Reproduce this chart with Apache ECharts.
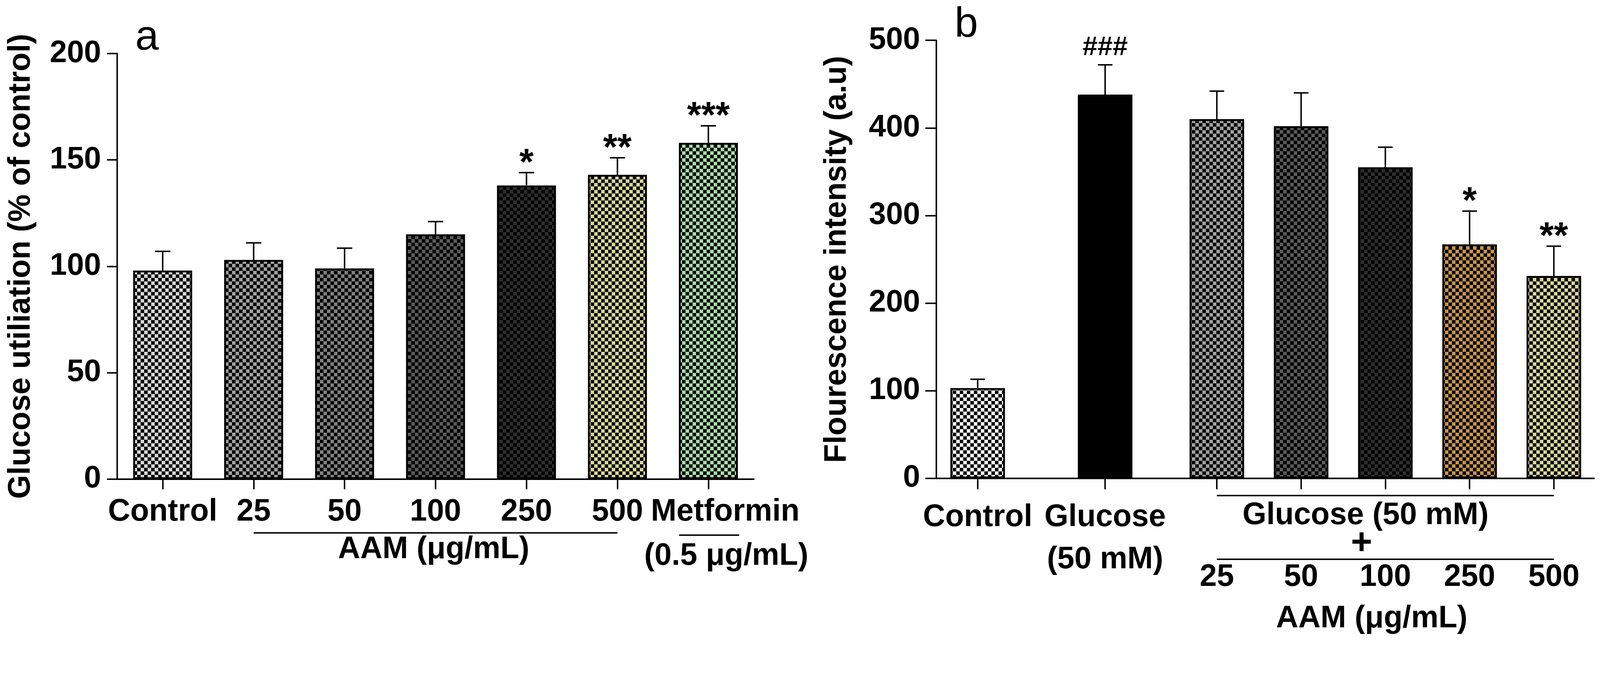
<!DOCTYPE html>
<html>
<head>
<meta charset="utf-8">
<script src="https://cdn.jsdelivr.net/npm/echarts@6/dist/echarts.min.js"></script>
<style>
  html, body { margin: 0; padding: 0; background: #fff; overflow: hidden; }
  #box { width: 100vw; height: 100vh; }
</style>
</head>
<body>
<div id="box"></div>
<script>
// panel a: glucose utilisation
var aCategories = ['Control', '25', '50', '100', '250', '500', 'Metformin'];
var aValues = [98, 103, 99, 115, 138, 143, 158];
var aErrors = [9, 8, 9.5, 6, 6, 8, 8];
var aMarks = ['', '', '', '', '*', '**', '***'];
var aColors = ['#d6d6d6', '#a0a0a0', '#808080', '#5a5a5a', '#2e2e2e', '#d8d69a', '#a8dca9'];

// panel b: fluorescence
var bCategories = ['Control', 'Glucose\n(50 mM)', '25', '50', '100', '250', '500'];
var bValues = [103, 438, 410, 402, 355, 267, 231];
var bErrors = [10, 34, 32, 38, 23, 38, 34];
var bMarks = ['', '###', '', '', '', '*', '**'];
var bColors = ['#ffffff', '#000000', '#a0a0a0', '#5a5a5a', '#2e2e2e', '#c8944e', '#d8d69a'];

var FONT = '"Liberation Sans", Arial, sans-serif';

window.onload = function () {
    var box = document.getElementById('box');
    var myChart = echarts.init(box);
    // layout was measured on a 4368x1750 canvas, scale it to whatever we get
    var S = Math.min(box.clientWidth / 4368, box.clientHeight / 1750);
    function s(v) { return v * S; }

    // checkerboard fill like the GraphPad bars
    function checker(color) {
        if (color === '#000000') return color;
        var n = Math.max(1, Math.round(s(10)));
        var c = document.createElement('canvas');
        c.width = 2 * n;
        c.height = 2 * n;
        var g = c.getContext('2d');
        g.fillStyle = color;
        g.fillRect(0, 0, 2 * n, 2 * n);
        g.fillStyle = '#000';
        g.fillRect(0, 0, n, n);
        g.fillRect(n, n, n, n);
        return { image: c, repeat: 'repeat' };
    }

    function barData(values, colors) {
        return values.map(function (v, i) {
            return { value: v, itemStyle: { color: checker(colors[i]) } };
        });
    }

    function errData(values, errors) {
        return values.map(function (v, i) { return [i, v, errors[i]]; });
    }

    // error bar (upper only) + significance mark
    function errorRender(marks, cap) {
        return function (params, api) {
            var i = api.value(0);
            var base = api.coord([i, api.value(1)]);
            var tip = api.coord([i, api.value(1) + api.value(2)]);
            var ls = { stroke: '#000', lineWidth: s(4) };
            var kids = [
                { type: 'line', shape: { x1: base[0], y1: base[1], x2: tip[0], y2: tip[1] }, style: ls },
                { type: 'line', shape: { x1: tip[0] - s(cap), y1: tip[1], x2: tip[0] + s(cap), y2: tip[1] }, style: ls }
            ];
            var m = marks[params.dataIndex];
            if (m) {
                var star = m.charAt(0) === '*';
                kids.push({
                    type: 'text',
                    style: {
                        text: m, x: tip[0], y: tip[1] - s(star ? 23 : 47),
                        align: 'center', verticalAlign: 'middle',
                        fontSize: s(star ? 100 : 74), fontWeight: 'bold', fontFamily: FONT, fill: '#000'
                    }
                });
            }
            return { type: 'group', children: kids };
        };
    }

    var lineBlack = { color: '#000', width: s(4) };
    var labelFont = { color: '#000', fontSize: s(84), fontWeight: 'bold', fontFamily: FONT };
    var barBorder = { borderColor: '#000', borderWidth: s(5) };

    function tick(len) {
        return { show: true, alignWithLabel: true, length: s(len), lineStyle: lineBlack };
    }

    var option = {
        animation: false,
        backgroundColor: '#fff',
        grid: [
            { left: s(320), top: s(146), width: s(1738), height: s(1161) },
            { left: s(2556), top: s(110), width: s(1796), height: s(1195) },
            { left: s(2495), top: s(110), width: s(696), height: s(1195) },
            { left: s(3207), top: s(110), width: s(1150), height: s(1195) }
        ],
        xAxis: [{
            gridIndex: 0,
            type: 'category',
            data: aCategories,
            axisLine: { show: true, lineStyle: lineBlack },
            axisTick: tick(28),
            axisLabel: Object.assign({}, labelFont, {
                margin: s(48),
                interval: 0,
                formatter: function (v) {
                    return v === 'Metformin' ? '{m|' + v + '}' : v;
                },
                rich: {
                    m: Object.assign({}, labelFont, { padding: [0, 0, 0, s(92)] })
                }
            }),
            splitLine: { show: false }
        }, {
            gridIndex: 1,
            type: 'value',
            min: 0,
            max: 1,
            axisLine: { show: true, onZero: false, lineStyle: lineBlack },
            axisTick: { show: false },
            axisLabel: { show: false },
            splitLine: { show: false }
        }, {
            gridIndex: 2,
            type: 'category',
            data: bCategories.slice(0, 2),
            axisLine: { show: false },
            axisTick: tick(30),
            axisLabel: Object.assign({}, labelFont, { margin: s(50), interval: 0, lineHeight: s(115) }),
            splitLine: { show: false }
        }, {
            gridIndex: 3,
            type: 'category',
            data: bCategories.slice(2),
            axisLine: { show: false },
            axisTick: tick(30),
            axisLabel: Object.assign({}, labelFont, { margin: s(228), interval: 0 }),
            splitLine: { show: false }
        }],
        yAxis: [{
            gridIndex: 0,
            type: 'value',
            min: 0,
            max: 200,
            interval: 50,
            name: 'Glucose utiliation (% of control)',
            nameLocation: 'middle',
            nameGap: s(220),
            nameTextStyle: labelFont,
            axisLine: { show: true, lineStyle: lineBlack },
            axisTick: { show: true, length: s(28), lineStyle: lineBlack },
            axisLabel: Object.assign({}, labelFont, { margin: s(44) }),
            splitLine: { show: false }
        }, {
            gridIndex: 1,
            type: 'value',
            min: 0,
            max: 500,
            interval: 100,
            name: 'Flourescence intensity (a.u)',
            nameLocation: 'middle',
            nameGap: s(228),
            nameTextStyle: labelFont,
            axisLine: { show: true, lineStyle: lineBlack },
            axisTick: { show: true, length: s(30), lineStyle: lineBlack },
            axisLabel: Object.assign({}, labelFont, { margin: s(44) }),
            splitLine: { show: false }
        }, {
            gridIndex: 2, type: 'value', min: 0, max: 500, show: false
        }, {
            gridIndex: 3, type: 'value', min: 0, max: 500, show: false
        }],
        series: [{
            type: 'bar',
            xAxisIndex: 0,
            yAxisIndex: 0,
            barWidth: s(161),
            itemStyle: barBorder,
            data: barData(aValues, aColors)
        }, {
            type: 'custom',
            xAxisIndex: 0,
            yAxisIndex: 0,
            z: 5,
            clip: false,
            renderItem: errorRender(aMarks, 21),
            data: errData(aValues, aErrors)
        }, {
            type: 'bar',
            xAxisIndex: 2,
            yAxisIndex: 2,
            barWidth: s(149),
            itemStyle: barBorder,
            data: barData(bValues.slice(0, 2), bColors.slice(0, 2))
        }, {
            type: 'custom',
            xAxisIndex: 2,
            yAxisIndex: 2,
            z: 5,
            clip: false,
            renderItem: errorRender(bMarks.slice(0, 2), 20),
            data: errData(bValues.slice(0, 2), bErrors.slice(0, 2))
        }, {
            type: 'bar',
            xAxisIndex: 3,
            yAxisIndex: 3,
            barWidth: s(149),
            itemStyle: barBorder,
            data: barData(bValues.slice(2), bColors.slice(2))
        }, {
            type: 'custom',
            xAxisIndex: 3,
            yAxisIndex: 3,
            z: 5,
            clip: false,
            renderItem: errorRender(bMarks.slice(2), 20),
            data: errData(bValues.slice(2), bErrors.slice(2))
        }]
    };
    myChart.setOption(option);

    // group brackets and captions under the axes, hung off the axis positions
    function px(axis, c) { return myChart.convertToPixel({ xAxisIndex: axis }, c); }
    function py(axis, v) { return myChart.convertToPixel({ yAxisIndex: axis }, v); }
    function hLine(x1, x2, y) {
        return { type: 'line', shape: { x1: x1, y1: y, x2: x2, y2: y }, style: { stroke: '#000', lineWidth: s(4) } };
    }
    function txt(str, x, y, size, weight, align) {
        return {
            type: 'text', x: x, y: y,
            style: {
                text: str, fontSize: s(size), fontWeight: weight || 'bold', fontFamily: FONT,
                fill: '#000', align: align || 'center', verticalAlign: 'middle'
            }
        };
    }

    var y0a = py(0, 0), y0b = py(1, 0);
    var xa0 = px(0, 'Control') - s(123), xb0 = px(1, 0);
    var met = px(0, 'Metformin'), a100 = px(0, '100'), b100 = px(3, '100');

    myChart.setOption({
        graphic: [
            hLine(px(0, '25'), px(0, '500'), y0a + s(147)),
            txt('AAM (μg/mL)', a100 - s(5), y0a + s(193), 84),
            hLine(met - s(80), met + s(84), y0a + s(153)),
            txt('(0.5 μg/mL)', met + s(49), y0a + s(211), 84),
            hLine(px(3, '25'), px(3, '500'), y0b + s(47)),
            txt('Glucose (50 mM)', b100 - s(54), y0b + s(102), 84),
            txt('+', b100 - s(65), y0b + s(178), 100),
            hLine(px(3, '25'), px(3, '500'), y0b + s(221)),
            txt('AAM (μg/mL)', b100 - s(37), y0b + s(383), 84),
            txt('a', xa0 + s(48), py(0, 200) - s(42), 115, 'normal', 'left'),
            txt('b', xb0 + s(50), py(1, 500) - s(41), 115, 'normal', 'left')
        ]
    });

    window.addEventListener('resize', function () {
        myChart.resize();
    });
};
</script>
</body>
</html>
